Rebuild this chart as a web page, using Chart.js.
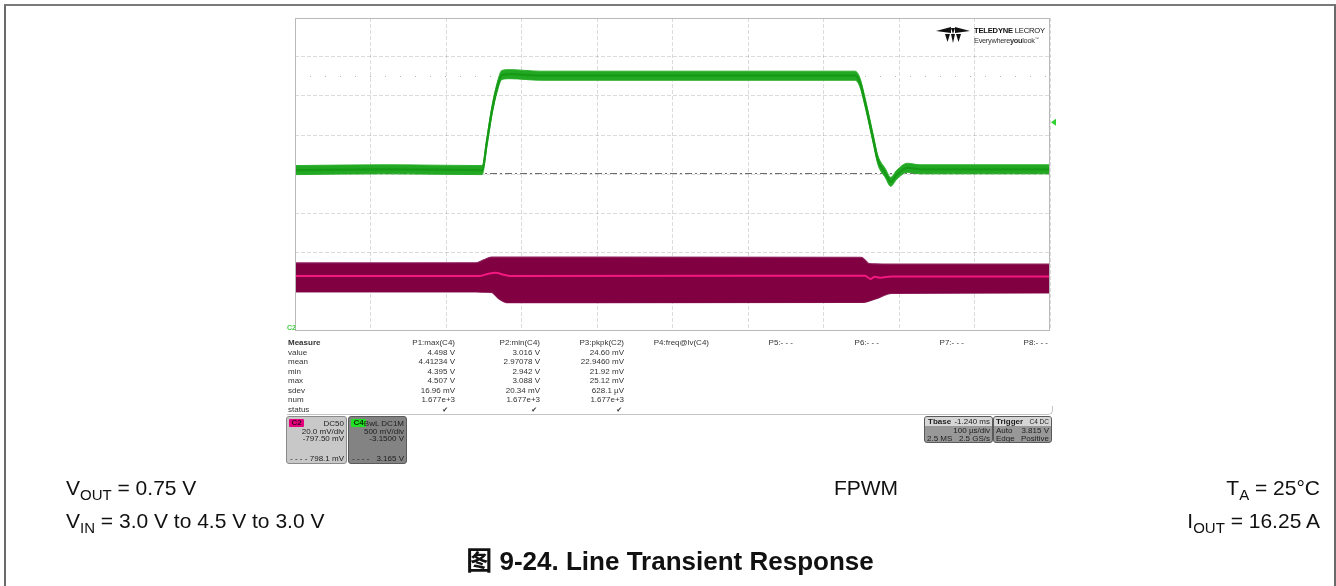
<!DOCTYPE html>
<html>
<head>
<meta charset="utf-8">
<script src="https://cdn.jsdelivr.net/npm/chart.js@4.4.1/dist/chart.umd.min.js"></script>
<style>
  html, body { margin: 0; padding: 0; background: #fff; }
  #page { position: relative; width: 1336px; height: 586px; overflow: hidden;
          font-family: "Liberation Sans", Arial, sans-serif; color: #222; }
  #scope { position: absolute; left: 0; top: 0; }
  #frame { position: absolute; left: 4px; top: 4px; width: 1328px; height: 600px;
           border-top: 2px solid #7a7a7a; border-left: 2px solid #6a6a6a; border-right: 2px solid #6a6a6a; }
  .t { position: absolute; white-space: nowrap; }
  .meas { font-size: 8px; line-height: 10px; height: 10px; color: #333; }
  .box { position: absolute; box-sizing: border-box; border: 1px solid #7c7c7c; border-radius: 3px; overflow: hidden; }
  .box .t { font-size: 8px; line-height: 8px; color: #1e1e1e; }
  .tag { position: absolute; left: 2px; top: 2px; width: 15px; height: 8px; font-size: 8px; line-height: 8px;
         font-weight: bold; text-align: center; border-radius: 1px; }
  .cap { font-size: 21px; line-height: 26px; color: #111; }
  .cap sub { font-size: 15px; vertical-align: -5px; line-height: 0; }
  #title { font-size: 26px; line-height: 30px; font-weight: bold; color: #111;
           font-family: "Liberation Sans", Arial, "Noto Sans CJK SC", sans-serif; }
</style>
</head>
<body>
<div id="page">
  <canvas id="scope" width="1336" height="586"></canvas>
  <div id="frame"></div>
  <div id="overlay"></div>
</div>
<script>
// ---- acquisition settings ----
const timeSpanUs = [0, 1000];          // 10 div x 100 µs/div
const c4Offset = 3.15;                 // V at screen centre (C4, 500 mV/div)
const c4VoltsPerDiv = 0.5;
const c2Offset = 797.5;                // mV at screen centre (C2, 20 mV/div)
const c2MvPerDiv = 20;
const triggerLevel = 3.815;            // V, C4 edge trigger
const cursorLevel = 4.40;              // V, dotted reference level

// ---- C4: input voltage step (V) ----
const vinTimeUs = [0, 120, 248, 254, 261, 268, 274, 285, 325, 500, 742, 748, 756, 766, 772, 782, 789, 797, 811, 828, 1000];
const vinVolts  = [3.20, 3.21, 3.20, 3.55, 3.97, 4.27, 4.42, 4.43, 4.41, 4.41, 4.41, 4.33, 4.03, 3.59, 3.33, 3.16, 3.05, 3.14, 3.23, 3.21, 3.21];
const vinNoiseHalf = 0.058;            // half width of the switching-noise band (V)

// ---- C2: output voltage ripple (mV) ----
const voutEnvTimeUs = [0, 240, 250, 260, 270, 282, 750, 756, 760, 770, 790, 1000];
const voutUpper     = [751.9, 752.0, 753.5, 754.9, 754.9, 754.9, 754.8, 753.0, 751.6, 751.4, 751.3, 751.3];
const voutLower     = [737.0, 737.0, 736.9, 736.8, 733.5, 731.5, 731.6, 731.8, 732.3, 733.5, 736.3, 736.5];
const voutMeanTimeUs = [0, 245, 252, 258, 266, 275, 285, 755, 762, 768, 775, 790, 1000];
const voutMean       = [745.2, 745.2, 745.9, 746.5, 746.8, 746.0, 745.2, 745.3, 743.7, 744.8, 744.3, 745.0, 745.0];

// ---- measurement panel ----
const measRows = ["Measure", "value", "mean", "min", "max", "sdev", "num", "status"];
const measHeads = ["P1:max(C4)", "P2:min(C4)", "P3:pkpk(C2)", "P4:freq@lv(C4)", "P5:- - -", "P6:- - -", "P7:- - -", "P8:- - -"];
const p1Vals = ["4.498 V", "4.41234 V", "4.395 V", "4.507 V", "16.96 mV", "1.677e+3"];
const p2Vals = ["3.016 V", "2.97078 V", "2.942 V", "3.088 V", "20.34 mV", "1.677e+3"];
const p3Vals = ["24.60 mV", "22.9460 mV", "21.92 mV", "25.12 mV", "628.1 µV", "1.677e+3"];

const pts = (xs, ys) => xs.map((x, i) => ({ x, y: ys[i] }));

const scopeDecor = {
  id: 'scopeDecor',
  beforeDatasetsDraw(chart) {
    const { ctx, chartArea: a, scales } = chart;
    ctx.save();
    // C4 offset reference line (dash-dot)
    let y = Math.round(scales.yV.getPixelForValue(c4Offset)) - 0.5;
    ctx.strokeStyle = '#6c6c6c'; ctx.lineWidth = 1; ctx.setLineDash([7, 3, 2, 3]);
    ctx.beginPath(); ctx.moveTo(a.left, y); ctx.lineTo(a.right, y); ctx.stroke();
    // dotted cursor level
    y = Math.round(scales.yV.getPixelForValue(cursorLevel)) + 0.5;
    ctx.strokeStyle = '#b4b4b4'; ctx.setLineDash([1, 14]);
    ctx.beginPath(); ctx.moveTo(a.left + 15, y); ctx.lineTo(a.right, y); ctx.stroke();
    ctx.restore();
  },
  afterDatasetsDraw(chart) {
    const { ctx, chartArea: a, scales } = chart;
    ctx.save();
    ctx.strokeStyle = '#b9b9b9'; ctx.lineWidth = 1; ctx.setLineDash([]);
    ctx.strokeRect(Math.round(a.left) + 0.5, Math.round(a.top) + 0.5,
                   Math.round(a.right - a.left) - 1, Math.round(a.bottom - a.top));
    // trigger level marker on the right edge
    const ty = scales.yV.getPixelForValue(triggerLevel);
    ctx.fillStyle = '#2fd02f';
    ctx.beginPath(); ctx.moveTo(a.right + 1, ty); ctx.lineTo(a.right + 6, ty - 3.5); ctx.lineTo(a.right + 6, ty + 3.5);
    ctx.closePath(); ctx.fill();
    ctx.restore();
  }
};

const gridLine = { color: 'rgba(0,0,0,0.14)', drawTicks: false, lineWidth: 1 };

new Chart(document.getElementById('scope'), {
  type: 'line',
  data: {
    datasets: [
      { label: 'C4', data: pts(vinTimeUs, vinVolts), yAxisID: 'yV', order: 0,
        borderColor: '#169a16', borderWidth: 2.2, fill: false },
      { label: 'C4 noise hi', data: pts(vinTimeUs, vinVolts.map(v => v + vinNoiseHalf)), yAxisID: 'yV', order: 1,
        borderColor: '#2eb02e', borderWidth: 1, backgroundColor: '#22a822', fill: '+1' },
      { label: 'C4 noise lo', data: pts(vinTimeUs, vinVolts.map(v => v - vinNoiseHalf)), yAxisID: 'yV', order: 1,
        borderColor: '#2eb02e', borderWidth: 1, fill: false },
      { label: 'C2 mean', data: pts(voutMeanTimeUs, voutMean), yAxisID: 'yM', order: 0,
        borderColor: '#f2187f', borderWidth: 2, fill: false },
      { label: 'C2 hi', data: pts(voutEnvTimeUs, voutUpper), yAxisID: 'yM', order: 2,
        borderColor: '#8e2260', borderWidth: 1.2, backgroundColor: '#800041', fill: '+1' },
      { label: 'C2 lo', data: pts(voutEnvTimeUs, voutLower), yAxisID: 'yM', order: 2,
        borderColor: '#8e2260', borderWidth: 1.2, fill: false }
    ]
  },
  options: {
    responsive: false,
    devicePixelRatio: 1,
    animation: false,
    layout: { padding: { left: 295, top: 18, right: 286, bottom: 256 } },
    elements: { point: { radius: 0 }, line: { cubicInterpolationMode: 'monotone' } },
    plugins: { legend: { display: false }, tooltip: { enabled: false } },
    scales: {
      x: { type: 'linear', min: timeSpanUs[0], max: timeSpanUs[1],
           ticks: { display: false, stepSize: 100 }, grid: gridLine,
           border: { display: false, dash: [4, 2] } },
      yV: { type: 'linear', position: 'left',
            min: c4Offset - 4 * c4VoltsPerDiv, max: c4Offset + 4 * c4VoltsPerDiv,
            afterBuildTicks: s => { s.ticks = Array.from({ length: 9 }, (_, i) => ({ value: s.min + i * c4VoltsPerDiv })); },
            ticks: { display: false }, grid: gridLine, border: { display: false, dash: [4, 2] } },
      yM: { type: 'linear', position: 'right', display: false,
            min: c2Offset - 4 * c2MvPerDiv, max: c2Offset + 4 * c2MvPerDiv }
    }
  },
  plugins: [scopeDecor]
});

// ---- text overlay ----
const ov = document.getElementById('overlay');
function add(html, style, cls) {
  const d = document.createElement('div');
  d.className = 't ' + (cls || '');
  d.innerHTML = html;
  Object.assign(d.style, style);
  ov.appendChild(d);
  return d;
}

// measurement table
const rowY = [343, 352.7, 362.3, 372, 381.3, 391, 400.3, 410];
const colRight = [455, 540, 624, 709, 793, 879, 964, 1048];
measRows.forEach((r, i) => add(r, { left: '288px', top: (rowY[i] - 5) + 'px', fontWeight: i === 0 ? 'bold' : 'normal' }, 'meas'));
measHeads.forEach((h, i) => add(h, { right: (1336 - colRight[i]) + 'px', top: (rowY[0] - 5) + 'px' }, 'meas'));
[p1Vals, p2Vals, p3Vals].forEach((vals, c) => {
  vals.forEach((v, r) => add(v, { right: (1336 - colRight[c]) + 'px', top: (rowY[r + 1] - 5) + 'px' }, 'meas'));
});
[448, 537, 622].forEach(x => add('&#10004;', { right: (1336 - x) + 'px', top: (rowY[7] - 5) + 'px', fontFamily: '"DejaVu Sans"', fontSize: '7px' }, 'meas'));
// panel outline under the table
const rule = document.createElement('div');
Object.assign(rule.style, { position: 'absolute', left: '287px', top: '406px', width: '765px', height: '8px',
  borderBottom: '1px solid #c4c4c4', borderRight: '1px solid #c4c4c4', borderBottomRightRadius: '5px' });
ov.appendChild(rule);

// channel descriptor boxes
function box(left, top, w, h, bg, border) {
  const b = document.createElement('div');
  b.className = 'box';
  Object.assign(b.style, { left: left + 'px', top: top + 'px', width: w + 'px', height: h + 'px', background: bg, borderColor: border });
  ov.appendChild(b);
  return b;
}
function line(parent, html, style) {
  const d = document.createElement('div');
  d.className = 't';
  d.innerHTML = html;
  Object.assign(d.style, style);
  parent.appendChild(d);
  return d;
}
const c2 = box(286, 416, 61, 48, '#c8c8c8', '#8a8a8a');
const t2 = line(c2, 'C2', {}); t2.className = 'tag'; t2.style.background = '#e6007e'; t2.style.color = '#3a0020';
line(c2, 'DC50', { right: '2px', top: '3px' });
line(c2, '20.0 mV/div', { right: '2px', top: '11px' });
line(c2, '-797.50 mV', { right: '2px', top: '18px' });
line(c2, '- - - -', { left: '3px', top: '38px' });
line(c2, '798.1 mV', { right: '2px', top: '38px' });

const c4 = box(348, 416, 59, 48, '#838383', '#5a5a5a');
const t4 = line(c4, 'C4', {}); t4.className = 'tag'; t4.style.background = '#22e022'; t4.style.color = '#063006';
line(c4, 'BwL DC1M', { right: '2px', top: '3px' });
line(c4, '500 mV/div', { right: '2px', top: '11px' });
line(c4, '-3.1500 V', { right: '2px', top: '18px' });
line(c4, '- - - -', { left: '3px', top: '38px' });
line(c4, '3.165 V', { right: '2px', top: '38px' });

const tb = box(924, 416, 69, 27, '#989898', '#5a5a5a');
line(tb, '', { left: 0, top: 0, width: '69px', height: '9px', background: '#d6d6d6' });
line(tb, '<b>Tbase</b>', { left: '3px', top: '1px' });
line(tb, '-1.240 ms', { right: '2px', top: '1px' });
line(tb, '100 µs/div', { right: '2px', top: '10px' });
line(tb, '2.5 MS', { left: '2px', top: '18px' });
line(tb, '2.5 GS/s', { right: '2px', top: '18px' });

const tg = box(993, 416, 59, 27, '#989898', '#5a5a5a');
line(tg, '', { left: 0, top: 0, width: '59px', height: '9px', background: '#d6d6d6' });
line(tg, '<b>Trigger</b>', { left: '2px', top: '1px' });
line(tg, 'C4 DC', { right: '2px', top: '1px', fontSize: '6.5px' });
line(tg, 'Auto', { left: '2px', top: '10px' });
line(tg, '3.815 V', { right: '2px', top: '10px' });
line(tg, 'Edge', { left: '2px', top: '18px' });
line(tg, 'Positive', { right: '2px', top: '18px' });

// small channel marker at lower-left corner of the grid
add('C2', { left: '287px', top: '324px', fontSize: '7px', lineHeight: '8px', color: '#44cc44', fontWeight: 'bold' });

// instrument logo
const logo = document.createElement('div');
logo.className = 't';
Object.assign(logo.style, { left: '936px', top: '26px' });
logo.innerHTML =
  '<svg width="34" height="18" viewBox="0 0 34 18" style="position:absolute;left:0;top:0">' +
  '<polygon points="0,5 15,1 15,7" fill="#111"/>' +
  '<polygon points="34,5 19,1 19,7" fill="#111"/>' +
  '<polygon points="15,2 19,2 17,8" fill="#111"/>' +
  '<polygon points="9,8 14,8 11.5,16" fill="#111"/>' +
  '<polygon points="15,8 19,8 17,17" fill="#111"/>' +
  '<polygon points="20,8 25,8 22.5,16" fill="#111"/></svg>' +
  '<div class="t" style="left:38px;top:0;font-size:7.6px;line-height:9px;letter-spacing:-0.2px;color:#111"><b>TELEDYNE</b> LECROY</div>' +
  '<div class="t" style="left:38px;top:8px;font-size:7.4px;line-height:9px;letter-spacing:-0.3px;color:#333">Everywhere<b>you</b>look<sup style="font-size:4px">™</sup></div>';
ov.appendChild(logo);

// figure captions
add('V<sub>OUT</sub> = 0.75 V', { left: '66px', top: '475px' }, 'cap');
add('V<sub>IN</sub> = 3.0 V to 4.5 V to 3.0 V', { left: '66px', top: '508px' }, 'cap');
add('FPWM', { left: '766px', width: '200px', textAlign: 'center', top: '475px' }, 'cap');
add('T<sub>A</sub> = 25°C', { right: '16px', top: '475px' }, 'cap');
add('I<sub>OUT</sub> = 16.25 A', { right: '16px', top: '508px' }, 'cap');
const title = add('图 9-24. Line Transient Response', { left: '370px', width: '600px', textAlign: 'center', top: '546px' });
title.id = 'title';
</script>
</body>
</html>
